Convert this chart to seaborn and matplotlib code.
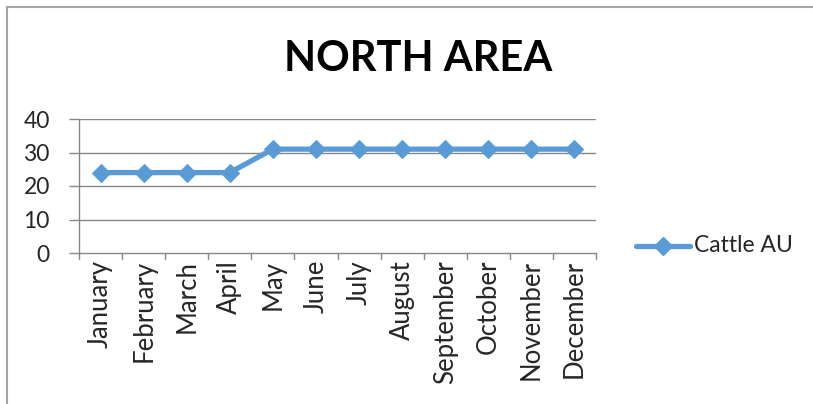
import matplotlib
matplotlib.use("Agg")
import matplotlib.pyplot as plt
from matplotlib.patches import Rectangle
import seaborn as sns
import pandas as pd

months = ["January", "February", "March", "April", "May", "June", "July",
          "August", "September", "October", "November", "December"]
cattle_au = [24, 24, 24, 24, 31, 31, 31, 31, 31, 31, 31, 31]
y_ticks = [0, 10, 20, 30, 40]

sns.set_style("white")
plt.rcParams["font.family"] = ["Lato", "DejaVu Sans"]

df = pd.DataFrame({"month": months, "value": cattle_au, "series": "Cattle AU"})
df["pos"] = range(len(months))

fig = plt.figure(figsize=(8.13, 4.04), dpi=100)
ax = fig.add_axes([79 / 813, 1 - 253 / 404, 517 / 813, 134 / 404])

blue = "#5B9BD5"
grid_c = "#878787"

sns.lineplot(data=df, x="pos", y="value", ax=ax, color=blue, linewidth=3.8,
             marker="D", markersize=9, markeredgecolor=blue,
             label="Cattle AU", legend=False)

ax.set_xlim(-0.5, len(months) - 0.5)
ax.set_ylim(0, 40)
ax.set_yticks(y_ticks)
ax.set_yticklabels([str(v) for v in y_ticks], fontsize=16.5)
ax.set_xticks(range(len(months)))
ax.set_xticklabels(months, rotation=90, fontsize=18.5)
ax.tick_params(axis="x", length=0, pad=5)
ax.tick_params(axis="y", length=7, color=grid_c, width=1, pad=14, direction="out", left=True)
ax.set_xlabel("")
ax.set_ylabel("")

# horizontal gridlines
for v in y_ticks[1:]:
    ax.axhline(v, color=grid_c, linewidth=1, zorder=0)

# category boundary ticks below the x axis
for b in range(len(months) + 1):
    ax.plot([b - 0.5, b - 0.5], [0, -1.8], color=grid_c, linewidth=1,
            clip_on=False, zorder=1)

for s in ["top", "right"]:
    ax.spines[s].set_visible(False)
for s in ["left", "bottom"]:
    ax.spines[s].set_color(grid_c)
    ax.spines[s].set_linewidth(1)

fig.text(418 / 813, 1 - 59 / 404, "NORTH AREA", ha="center", va="center",
         fontsize=30, fontweight="bold", color="black")

# legend entry
lx0, lx1, ly = 636 / 813, 690 / 813, 1 - 246 / 404
fig.add_artist(plt.Line2D([lx0, lx1], [ly, ly], transform=fig.transFigure,
                          color=blue, linewidth=3.8, solid_capstyle="round"))
fig.add_artist(plt.Line2D([(lx0 + lx1) / 2], [ly], transform=fig.transFigure,
                          color=blue, marker="D", markersize=9, linestyle="none"))
fig.text(694 / 813, ly, "Cattle AU", ha="left", va="center", fontsize=16.5)

# outer chart frame
fig.add_artist(Rectangle((7 / 813, -0.1), 1.2, 1.1 - 7 / 404, transform=fig.transFigure,
                         fill=False, edgecolor="#A6A6A6", linewidth=1.5))

fig.savefig("out.png", dpi=100)
